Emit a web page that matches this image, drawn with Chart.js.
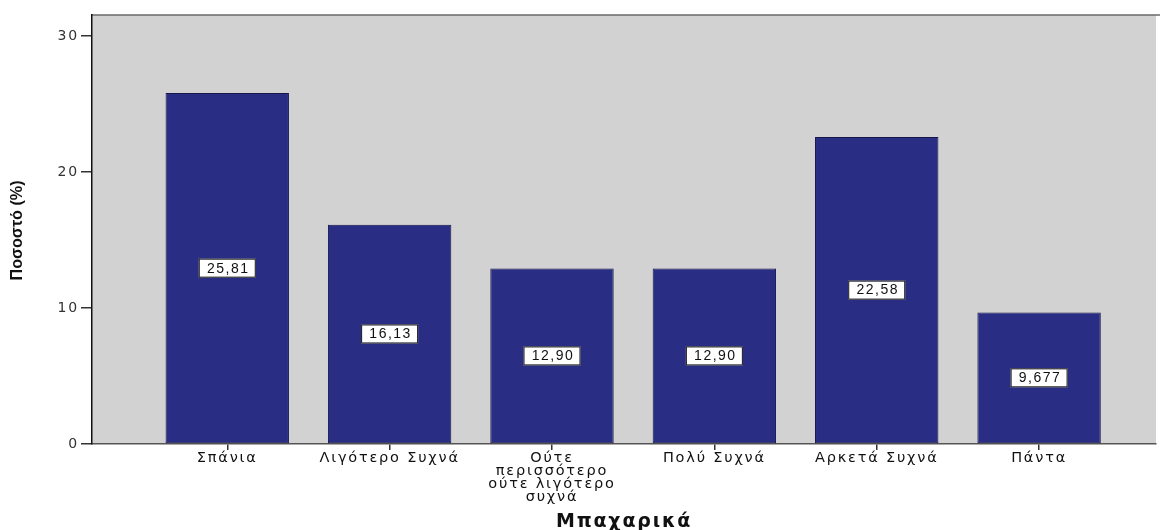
<!DOCTYPE html>
<html lang="el">
<head>
<meta charset="utf-8">
<title>Μπαχαρικά</title>
<script src="https://cdn.jsdelivr.net/npm/chart.js@4.4.8/dist/chart.umd.min.js"></script>
<style>
  html, body { margin: 0; padding: 0; background: #fff; }
  #wrap { width: 1160px; height: 530px; }
</style>
</head>
<body>
<div id="wrap"><canvas id="chart"></canvas></div>
<script>
// categories and values
const categories = [
    'Σπάνια',
    'Λιγότερο Συχνά',
    ['Ούτε', 'περισσότερο', 'ούτε λιγότερο', 'συχνά'],
    'Πολύ Συχνά',
    'Αρκετά Συχνά',
    'Πάντα'
];
const percents = [25.81, 16.13, 12.90, 12.90, 22.58, 9.677];
const valueLabels = ['25,81', '16,13', '12,90', '12,90', '22,58', '9,677'];
const yTicks = [0, 10, 20, 30];
const yTitle = 'Ποσοστό (%)';

const plotBg = '#d2d2d2';
const barColor = '#2a2d84';

// grey plot area + spaced-out text like the original export
const plotArea = {
    id: 'plotArea',
    beforeDraw(chart) {
        const {ctx, chartArea: a} = chart;
        ctx.save();
        ctx.fillStyle = plotBg;
        ctx.fillRect(a.left, a.top, a.right - a.left, a.bottom - a.top);
        ctx.strokeStyle = '#6a6a6a';
        ctx.lineWidth = 1.5;
        ctx.beginPath();
        ctx.moveTo(a.left, a.top);
        ctx.lineTo(chart.width, a.top);
        ctx.stroke();
        ctx.restore();
        ctx.letterSpacing = '1.8px';
    },
    beforeDatasetsDraw(chart) {
        chart.ctx.letterSpacing = '0px';
    },
    // narrow bold y title (no condensed font installed, so squeeze it)
    afterDraw(chart) {
        const {ctx, chartArea: a} = chart;
        ctx.save();
        ctx.letterSpacing = '0px';
        ctx.font = 'bold 17px "Liberation Sans", Arial, sans-serif';
        ctx.fillStyle = '#111';
        ctx.textAlign = 'center';
        ctx.textBaseline = 'middle';
        const w = ctx.measureText(yTitle).width;
        ctx.translate(17, (a.top + a.bottom) / 2 + 1);
        ctx.rotate(-Math.PI / 2);
        ctx.scale(100 / w, 1);
        ctx.fillText(yTitle, 0, 0);
        ctx.restore();
    }
};

// boxed value labels in the middle of every bar
const boxLabels = {
    id: 'boxLabels',
    afterDatasetsDraw(chart) {
        const ctx = chart.ctx;
        const meta = chart.getDatasetMeta(0);
        ctx.save();
        ctx.letterSpacing = '1.5px';
        ctx.font = '14px "Liberation Sans", Arial, sans-serif';
        ctx.textAlign = 'center';
        ctx.textBaseline = 'middle';
        meta.data.forEach((bar, i) => {
            const {x, y, base} = bar.getProps(['x', 'y', 'base'], true);
            const cy = (y + base) / 2;
            const w = 57, h = 19;
            ctx.fillStyle = '#fff';
            ctx.fillRect(x - w / 2, cy - h / 2, w, h);
            ctx.strokeStyle = '#111';
            ctx.lineWidth = 1;
            ctx.strokeRect(x - w / 2 + 0.5, cy - h / 2 + 0.5, w - 1, h - 1);
            ctx.fillStyle = '#111';
            ctx.fillText(valueLabels[i], x + 1, cy + 0.5);
        });
        ctx.restore();
    }
};

new Chart(document.getElementById('chart'), {
    type: 'bar',
    data: {
        datasets: [{
            data: percents.map((v, i) => ({x: i, y: v})),
            backgroundColor: barColor,
            borderColor: '#15174a',
            borderWidth: 1,
            borderSkipped: false,
            barPercentage: 0.76,
            categoryPercentage: 1
        }]
    },
    options: {
        responsive: true,
        maintainAspectRatio: false,
        animation: false,
        events: [],
        layout: { padding: { left: 0, top: 15, right: 4, bottom: 0 } },
        plugins: {
            legend: { display: false },
            tooltip: { enabled: false }
        },
        scales: {
            x: {
                type: 'linear',
                offset: false,
                min: -0.833,
                max: 5.72,
                afterBuildTicks(scale) {
                    scale.ticks = categories.map((c, i) => ({value: i}));
                },
                afterFit(scale) { scale.height = 86; },
                border: { display: true, color: '#555', width: 1.5 },
                grid: {
                    offset: false,
                    drawOnChartArea: false,
                    drawTicks: true,
                    tickLength: 6,
                    color: '#333',
                    lineWidth: 1.5
                },
                ticks: {
                    autoSkip: false,
                    maxRotation: 0,
                    minRotation: 0,
                    padding: 2,
                    color: '#111',
                    font: { family: '"DejaVu Sans", sans-serif', size: 14.5, lineHeight: 0.9 },
                    callback: (v) => categories[v]
                },
                title: {
                    display: true,
                    text: 'Μπαχαρικά',
                    color: '#111',
                    font: { family: '"DejaVu Sans", sans-serif', size: 19, weight: 'bold', lineHeight: 1.0 },
                    padding: { top: 0, bottom: -2 }
                }
            },
            y: {
                min: 0,
                max: 31.55,
                afterBuildTicks(scale) {
                    scale.ticks = yTicks.map(v => ({value: v}));
                },
                afterFit(scale) { scale.width = 92; },
                border: { display: true, color: '#111', width: 1.5 },
                grid: {
                    drawOnChartArea: false,
                    drawTicks: true,
                    tickLength: 11,
                    color: '#333',
                    lineWidth: 1.5
                },
                ticks: {
                    padding: 2,
                    color: '#333',
                    font: { family: '"DejaVu Sans", sans-serif', size: 14 }
                },
                title: { display: false }
            }
        }
    },
    plugins: [plotArea, boxLabels]
});
</script>
</body>
</html>
